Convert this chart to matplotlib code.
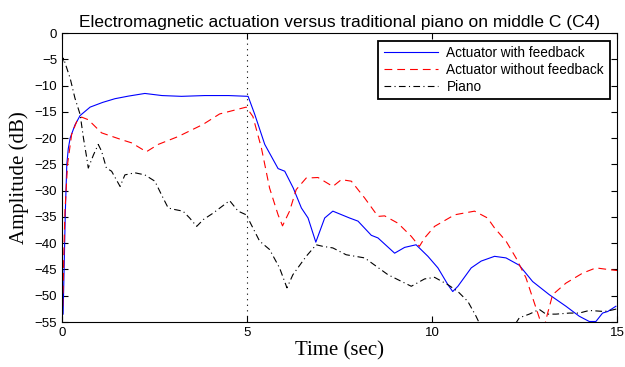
import matplotlib
matplotlib.use("Agg")
import matplotlib.pyplot as plt
import numpy as np

# actuator with feedback
t_fb = [0.03, 0.06, 0.09, 0.13, 0.17, 0.22, 0.35, 0.49, 0.76, 1.1, 1.43, 1.8, 2.24, 2.7, 3.23, 3.86, 4.5, 5.03,
        5.21, 5.48, 5.84, 6.02, 6.25, 6.47, 6.65, 6.86, 7.1, 7.32, 7.77, 8.0, 8.36, 8.54, 8.99, 9.26,
        9.57, 9.89, 10.16, 10.43, 10.56, 10.7, 11.06, 11.33, 11.69, 12.0, 12.36, 12.72, 13.17, 13.62,
        13.98, 14.25, 14.43, 14.61, 14.75, 14.97]
db_fb = [-53.5, -44, -34, -25, -22, -20, -17.5, -15.7, -14.1, -13.2, -12.5, -12.0, -11.5, -11.9, -12.05, -11.9, -11.9, -12.05,
         -15.5, -21.2, -25.8, -26.3, -29.5, -33.3, -35.2, -39.8, -35.2, -33.9, -35.2, -35.8, -38.5, -39, -41.9, -40.8,
         -40.3, -42.5, -44.7, -47.9, -49.2, -48.2, -44.7, -43.4, -42.5, -42.8, -44.2, -47.3, -49.8, -52,
         -53.9, -54.9, -54.9, -53.3, -53, -52]

# actuator without feedback
t_nofb = [0.02, 0.05, 0.08, 0.15, 0.26, 0.4, 0.53, 0.71, 1.07, 1.61, 1.88, 2.28, 2.6, 3.14, 3.81, 4.26, 4.98,
          5.16, 5.39, 5.61, 5.84, 5.96, 6.15, 6.33, 6.6, 6.92, 7.32, 7.55, 7.82, 8.18, 8.54, 8.72, 9.08,
          9.44, 9.66, 9.8, 10.07, 10.61, 11.15, 11.5, 11.69, 12.0, 12.27, 12.54, 12.72, 12.9, 13.0,
          13.1, 13.26, 13.62, 14.07, 14.43, 14.75, 15.0]
db_nofb = [-52, -42, -33.9, -25, -19.3, -16.8, -16, -16.5, -19.0, -20.3, -20.9, -22.6, -21.2, -19.7, -17.4, -15.4, -14.1,
           -15.9, -21.9, -29.5, -34.6, -36.7, -33.9, -29.8, -27.6, -27.5, -29.2, -27.9, -28.2, -31.4, -34.9, -34.8, -36.2,
           -38.7, -40.6, -39, -36.8, -34.6, -33.9, -35.2, -37.1, -39.6, -42.8, -46.6, -50.4, -54.2, -57,
           -54, -49.8, -47.6, -45.7, -44.7, -45, -45.2]

# piano
t_pi = [0.0, 0.04, 0.22, 0.35, 0.49, 0.58, 0.67, 0.71, 0.85, 0.98, 1.07, 1.2, 1.34, 1.57, 1.7, 1.97,
        2.24, 2.51, 2.69, 2.87, 3.05, 3.27, 3.45, 3.64, 3.82, 4.08, 4.53, 4.76, 4.98, 5.16, 5.34, 5.61,
        5.88, 6.08, 6.24, 6.6, 6.87, 7.05, 7.32, 7.68, 8.18, 8.81, 9.44, 9.8, 10.07, 10.43, 10.7, 10.97,
        11.19, 11.4, 11.8, 12.1, 12.36, 12.63, 12.9, 13.08, 13.35, 13.71, 13.98, 14.25, 14.66, 14.88, 15.0]
db_pi = [-6, -4.8, -8.6, -12.4, -15.5, -20, -23.8, -25.7, -23.2, -21.2, -22.5, -25.7, -26.3, -29.2, -27, -26.6,
         -27, -28.2, -30.8, -33.3, -33.6, -33.9, -35.2, -36.8, -35.5, -34.3, -31.9, -33.9, -34.6, -37.1, -39.6, -41.2,
         -44.7, -48.5, -46, -42.5, -40.3, -40.6, -40.9, -42.2, -42.8, -46, -48.2, -46.8, -46.5, -47.9, -49.2, -51.1,
         -53.9, -57, -58, -57, -54.2, -53.5, -52.6, -53.5, -53.5, -53.3, -53.3, -52.8, -53, -52.7, -52.5]

labels = ['Actuator with feedback', 'Actuator without feedback', 'Piano']

fig = plt.figure(figsize=(6.25, 3.67), dpi=100)
ax = fig.add_axes([0.0992, 0.1226, 0.888, 0.7874])

ax.plot(t_fb, db_fb, color='b', lw=0.8, label=labels[0])
ax.plot(t_nofb, db_nofb, color='r', lw=0.8, dashes=(7, 4.5), label=labels[1])
ax.plot(t_pi, db_pi, color='k', lw=0.8, dashes=(6, 3, 1, 3), label=labels[2])
ax.axvline(5, color='k', lw=0.8, ls=(0, (1, 4)))

ax.set_xlim(0, 15)
ax.set_ylim(-55, 0)
ax.set_xticks([0, 5, 10, 15])
ax.set_yticks(np.arange(-55, 1, 5))
ax.tick_params(direction='in', top=True, right=True, length=4, labelsize=9.5)
for lbl in ax.get_xticklabels() + ax.get_yticklabels():
    lbl.set_family('Liberation Sans')

ax.set_title('Electromagnetic actuation versus traditional piano on middle C (C4)',
             family='Liberation Sans', fontsize=12.5, pad=4)
ax.set_xlabel('Time (sec)', family='Liberation Serif', fontsize=15, labelpad=2)
ax.set_ylabel('Amplitude (dB)', family='Liberation Serif', fontsize=15, labelpad=4)

leg = ax.legend(loc='upper right', prop={'family': 'Liberation Sans', 'size': 9.8},
                fancybox=False, framealpha=1, edgecolor='k', borderpad=0.4,
                labelspacing=0.22, handlelength=4.0, handletextpad=0.6, borderaxespad=0.55)
leg.get_frame().set_linewidth(1.3)

fig.savefig('out.png', dpi=100)
